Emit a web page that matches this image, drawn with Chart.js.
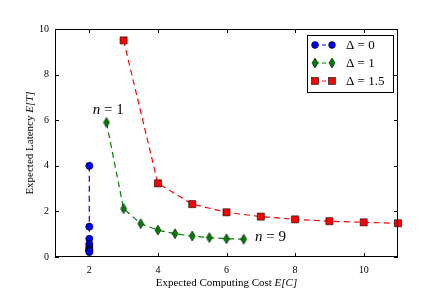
<!DOCTYPE html>
<html>
<head>
<meta charset="utf-8">
<script src="https://cdn.jsdelivr.net/npm/chart.js@4/dist/chart.umd.min.js"></script>
<style>
  html, body { margin: 0; padding: 0; background: #fff; }
  #wrap { width: 443px; height: 295px; }
</style>
</head>
<body>
<div id="wrap"><canvas id="mycanvas"></canvas></div>
<script>
// values
var costDelta0 = [2, 2, 2, 2, 2, 2, 2, 2, 2];
var latencyDelta0 = [4.0, 1.33, 0.8, 0.57, 0.44, 0.36, 0.31, 0.27, 0.22];
var costDelta1 = [2.5, 3, 3.5, 4, 4.5, 5, 5.5, 6, 6.5];
var latencyDelta1 = [5.9, 2.12, 1.46, 1.18, 1.02, 0.92, 0.85, 0.8, 0.78];
var costDelta15 = [3, 4, 5, 6, 7, 8, 9, 10, 11];
var latencyDelta15 = [9.5, 3.23, 2.32, 1.96, 1.77, 1.65, 1.57, 1.52, 1.48];
var seriesLabels = ['\u0394 = 0', '\u0394 = 1', '\u0394 = 1.5'];
var xTicks = [2, 4, 6, 8, 10];
var yTicks = [0, 2, 4, 6, 8, 10];

var serif = '"Liberation Serif", "DejaVu Serif", serif';

function pts(xs, ys) {
  var out = [];
  for (var i = 0; i < xs.length; i++) out.push({ x: xs[i], y: ys[i] });
  return out;
}

// thin diamond marker (like matplotlib 'd')
function thinDiamond() {
  var c = document.createElement('canvas');
  c.width = 8; c.height = 12;
  var g = c.getContext('2d');
  g.beginPath();
  g.moveTo(4, 1); g.lineTo(7, 6); g.lineTo(4, 11); g.lineTo(1, 6); g.closePath();
  g.fillStyle = '#007f00'; g.fill();
  g.strokeStyle = '#000'; g.lineWidth = 0.6; g.stroke();
  return c;
}
var diamondImg = thinDiamond();

function drawMarker(ctx, kind, x, y) {
  ctx.save();
  ctx.lineWidth = 0.6;
  ctx.strokeStyle = '#000';
  if (kind === 0) {
    ctx.beginPath(); ctx.arc(x, y, 3.4, 0, Math.PI * 2);
    ctx.fillStyle = '#0000ff'; ctx.fill(); ctx.stroke();
  } else if (kind === 1) {
    ctx.drawImage(diamondImg, x - 4, y - 6);
  } else {
    ctx.fillStyle = '#ff0000';
    ctx.fillRect(x - 3.4, y - 3.4, 6.8, 6.8);
    ctx.strokeRect(x - 3.4, y - 3.4, 6.8, 6.8);
  }
  ctx.restore();
}

var framePlugin = {
  id: 'frame',
  afterDraw: function (chart) {
    var ctx = chart.ctx, a = chart.chartArea;
    var xs = chart.scales.x, ys = chart.scales.y;
    ctx.save();
    ctx.strokeStyle = '#000';
    ctx.lineWidth = 1;
    ctx.strokeRect(a.left + 0.5, a.top + 0.5, a.right - a.left - 1, a.bottom - a.top - 1);
    ctx.beginPath();
    xTicks.forEach(function (v) {
      var px = Math.round(xs.getPixelForValue(v)) + 0.5;
      ctx.moveTo(px, a.bottom); ctx.lineTo(px, a.bottom - 4);
      ctx.moveTo(px, a.top); ctx.lineTo(px, a.top + 4);
    });
    yTicks.forEach(function (v) {
      var py = Math.round(ys.getPixelForValue(v)) + 0.5;
      ctx.moveTo(a.left, py); ctx.lineTo(a.left + 4, py);
      ctx.moveTo(a.right, py); ctx.lineTo(a.right - 4, py);
    });
    ctx.stroke();

    // axis titles
    ctx.fillStyle = '#000';
    ctx.textBaseline = 'middle';
    var t1 = 'Expected Computing Cost ', t2 = 'E[C]';
    ctx.font = '11px ' + serif;
    var w1 = ctx.measureText(t1).width;
    ctx.font = 'italic 11px ' + serif;
    var w2 = ctx.measureText(t2).width;
    var sx = (a.left + a.right) / 2 - (w1 + w2) / 2;
    ctx.textAlign = 'left';
    ctx.font = '11px ' + serif;
    ctx.fillText(t1, sx, 283);
    ctx.font = 'italic 11px ' + serif;
    ctx.fillText(t2, sx + w1, 283);

    ctx.save();
    ctx.translate(30, (a.top + a.bottom) / 2);
    ctx.rotate(-Math.PI / 2);
    var u1 = 'Expected Latency ', u2 = 'E[T]';
    ctx.font = '11px ' + serif;
    var v1 = ctx.measureText(u1).width;
    ctx.font = 'italic 11px ' + serif;
    var v2 = ctx.measureText(u2).width;
    ctx.font = '11px ' + serif;
    ctx.fillText(u1, -(v1 + v2) / 2, 0);
    ctx.font = 'italic 11px ' + serif;
    ctx.fillText(u2, -(v1 + v2) / 2 + v1, 0);
    ctx.restore();

    // annotations
    function nLabel(txt, x, y) {
      ctx.textAlign = 'left';
      ctx.font = 'italic 15px ' + serif;
      ctx.fillText('n', x, y);
      var w = ctx.measureText('n').width;
      ctx.font = '15px ' + serif;
      ctx.fillText(' = ' + txt, x + w, y);
    }
    nLabel('1', xs.getPixelForValue(2.1), ys.getPixelForValue(6.45));
    nLabel('9', xs.getPixelForValue(6.83), ys.getPixelForValue(0.88));

    // legend
    var lx = 307, ly = 35, lw = 86, lh = 57;
    ctx.fillStyle = '#fff';
    ctx.fillRect(lx, ly, lw, lh);
    ctx.strokeStyle = '#000';
    ctx.lineWidth = 1;
    ctx.strokeRect(lx + 0.5, ly + 0.5, lw, lh);
    var colors = ['#0000ff', '#007f00', '#ff0000'];
    var rowsY = [45, 63, 81];
    for (var i = 0; i < 3; i++) {
      ctx.save();
      ctx.strokeStyle = colors[i];
      ctx.setLineDash([4, 3]);
      ctx.beginPath(); ctx.moveTo(315, rowsY[i]); ctx.lineTo(332, rowsY[i]); ctx.stroke();
      ctx.restore();
      drawMarker(ctx, i, 315, rowsY[i]);
      drawMarker(ctx, i, 332, rowsY[i]);
      ctx.fillStyle = '#000';
      ctx.font = '13px ' + serif;
      ctx.textAlign = 'left';
      ctx.fillText(seriesLabels[i], 346, rowsY[i] + 1);
    }
    ctx.restore();
  }
};

function ds(label, data, color, style, radius) {
  return {
    label: label,
    data: data,
    borderColor: color,
    backgroundColor: color,
    borderWidth: 1.2,
    borderDash: [6, 4],
    pointStyle: style,
    pointRadius: radius,
    pointHoverRadius: radius,
    pointBorderColor: '#000',
    pointBorderWidth: 0.6,
    showLine: true,
    fill: false,
    tension: 0,
    clip: false
  };
}

new Chart(document.getElementById('mycanvas'), {
  type: 'scatter',
  data: {
    datasets: [
      ds(seriesLabels[2], pts(costDelta15, latencyDelta15), '#ff0000', 'rect', 5),
      ds(seriesLabels[1], pts(costDelta1, latencyDelta1), '#007f00', diamondImg, 5),
      ds(seriesLabels[0], pts(costDelta0, latencyDelta0), '#0000ff', 'circle', 3.6)
    ]
  },
  plugins: [framePlugin],
  options: {
    responsive: true,
    maintainAspectRatio: false,
    animation: false,
    events: [],
    layout: { padding: { top: 29, right: 45, left: 0, bottom: 0 } },
    plugins: { legend: { display: false }, tooltip: { enabled: false } },
    scales: {
      x: {
        type: 'linear', min: 1, max: 11,
        afterBuildTicks: function (s) { s.ticks = xTicks.map(function (v) { return { value: v }; }); },
        afterFit: function (s) { s.height = 38; },
        grid: { display: false, drawTicks: false },
        border: { display: false },
        ticks: { color: '#000', font: { family: serif, size: 10 }, padding: 7, maxRotation: 0 }
      },
      y: {
        type: 'linear', min: 0, max: 10,
        afterBuildTicks: function (s) { s.ticks = yTicks.map(function (v) { return { value: v }; }); },
        afterFit: function (s) { s.width = 55; },
        grid: { display: false, drawTicks: false },
        border: { display: false },
        ticks: { color: '#000', font: { family: serif, size: 10 }, padding: 6 }
      }
    }
  }
});
</script>
</body>
</html>
